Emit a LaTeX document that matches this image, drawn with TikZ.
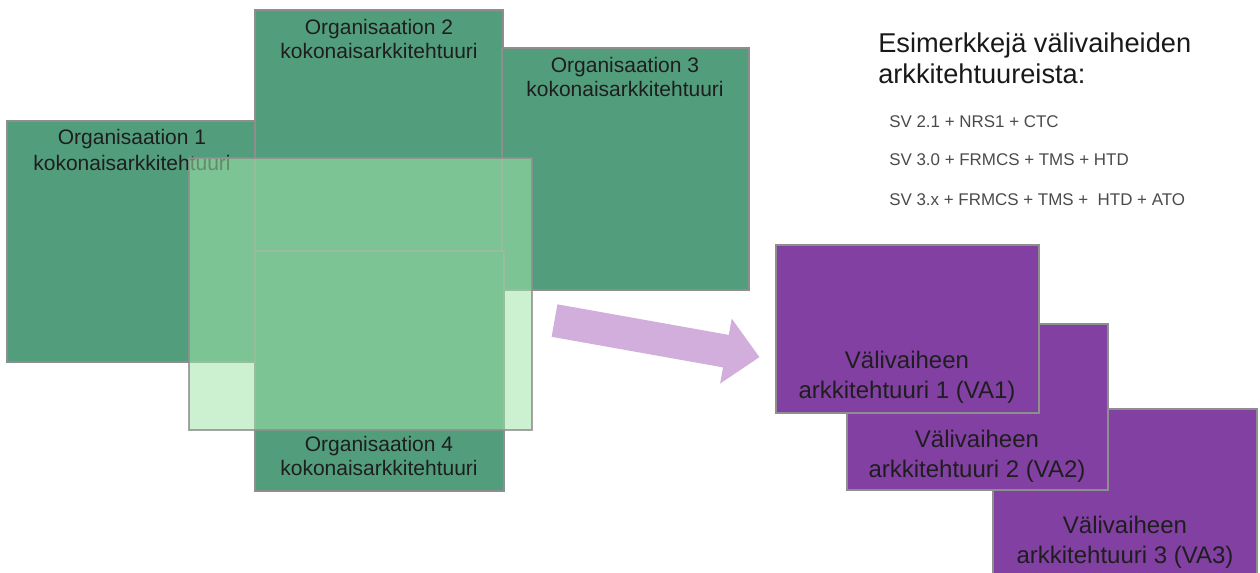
\documentclass[tikz,border=0pt]{standalone}
\usepackage{fontspec}
\setmainfont{Liberation Sans}
\usetikzlibrary{fit}

\definecolor{orggreen}{HTML}{529E7C}
\definecolor{overlaygreen}{HTML}{A0E6AA}
\definecolor{vapurple}{HTML}{8340A3}
\definecolor{arrowlilac}{HTML}{D2AEDD}
\definecolor{boxedge}{HTML}{8E8E8E}
\definecolor{labelink}{HTML}{1E1E1E}
\definecolor{noteink}{HTML}{4A4A4A}

\begin{document}
\begin{tikzpicture}[x=0.75pt,y=-0.75pt,
  orgbox/.style={draw=boxedge, line width=0.8pt, fill=orggreen, inner sep=0pt},
  overlaybox/.style={draw=boxedge, line width=1.3pt, fill=overlaygreen, fill opacity=0.54, draw opacity=0.8, inner sep=0pt},
  vabox/.style={draw=boxedge, line width=0.8pt, fill=vapurple, inner sep=0pt},
  orglabel/.style={text=labelink, align=center, inner sep=0pt, anchor=base,
    font=\fontsize{15.75pt}{18pt}\selectfont},
  valabel/.style={text=labelink, align=center, inner sep=0pt, anchor=base,
    font=\fontsize{18pt}{22.5pt}\selectfont},
  titlelabel/.style={text=black!90, align=left, inner sep=0pt, anchor=base west,
    font=\fontsize{20.4pt}{23.25pt}\selectfont},
  notelabel/.style={text=noteink, inner sep=0pt, anchor=base west,
    font=\fontsize{12.7pt}{15pt}\selectfont},
  blockarrow/.style={fill=arrowlilac, draw=none}
]
\useasboundingbox (0,0) rectangle (1260,572);

% organisation architectures (label anchors sit on the second line's baseline)
\node[orgbox, fit={(7,121) (257,362)}] (org1) {};
\node[orglabel, font=\fontsize{15.75pt}{19.5pt}\selectfont] (org1text) at (132,170)
  {Organisaation 1\\kokonaisarkkitehtuuri};
\node[orgbox, fit={(255,10) (503,251)}] (org2) {};
\node[orglabel] (org2text) at (379,58) {Organisaation 2\\kokonaisarkkitehtuuri};
\node[orgbox, fit={(502,48) (749,290)}] (org3) {};
\node[orglabel] (org3text) at (625,96) {Organisaation 3\\kokonaisarkkitehtuuri};
\node[orgbox, fit={(255,251) (504,491)}] (org4) {};
\node[orglabel] (org4text) at (379,475) {Organisaation 4\\kokonaisarkkitehtuuri};

% shared translucent area
\node[overlaybox, fit={(189,158) (532,430)}] (shared) {};

% transition arrow
\coordinate (tailtop) at (557.4,304.3);
\coordinate (neck1) at (728.8,334.9);
\coordinate (headtop) at (731.7,318.6);
\coordinate (tip) at (759.4,357.1);
\coordinate (headbot) at (720.1,383.6);
\coordinate (neck2) at (723.0,367.4);
\coordinate (tailbot) at (551.6,336.8);
\fill[blockarrow] (tailtop) -- (neck1) -- (headtop) -- (tip) -- (headbot) -- (neck2) -- (tailbot) -- cycle;

% intermediate architectures
\node[vabox, fit={(993,409) (1257,585)}] (va3) {};
\node[valabel] (va3text) at (1125,563) {Välivaiheen\\arkkitehtuuri 3 (VA3)};
\node[vabox, fit={(847,324) (1108,490)}] (va2) {};
\node[valabel] (va2text) at (977,477) {Välivaiheen\\arkkitehtuuri 2 (VA2)};
\node[vabox, fit={(776,245) (1039,413)}] (va1) {};
\node[valabel] (va1text) at (907,398) {Välivaiheen\\arkkitehtuuri 1 (VA1)};

% examples
\node[titlelabel] (title) at (878,83) {Esimerkkejä välivaiheiden\\arkkitehtuureista:};
\node[notelabel] (ex1) at (889,127) {SV 2.1 + NRS1 + CTC};
\node[notelabel] (ex2) at (889,165) {SV 3.0 + FRMCS + TMS + HTD};
\node[notelabel] (ex3) at (889,205) {SV 3.x + FRMCS + TMS + \ HTD + ATO};
\end{tikzpicture}
\end{document}
